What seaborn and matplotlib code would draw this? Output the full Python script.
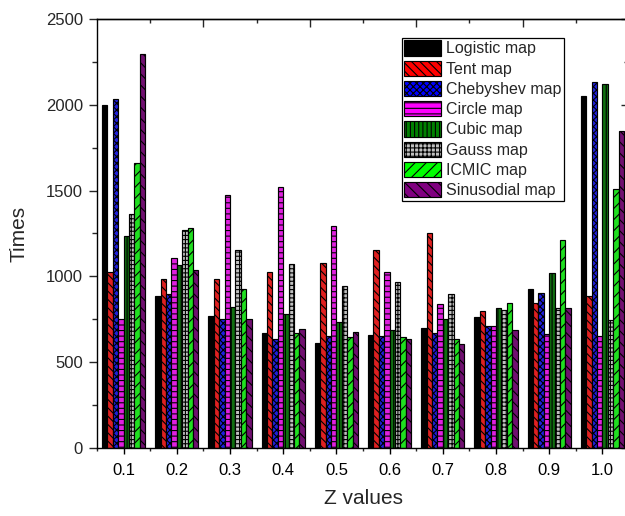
import matplotlib
matplotlib.use("Agg")
import matplotlib.pyplot as plt
from matplotlib.patches import Patch
from matplotlib.ticker import MultipleLocator
import numpy as np
import pandas as pd
import seaborn as sns

z_values = ["0.1", "0.2", "0.3", "0.4", "0.5", "0.6", "0.7", "0.8", "0.9", "1.0"]
map_names = ["Logistic map", "Tent map", "Chebyshev map", "Circle map",
             "Cubic map", "Gauss map", "ICMIC map", "Sinusodial map"]

logistic = [2000, 887, 772, 671, 611, 657, 698, 766, 928, 2050]
tent = [1025, 984, 984, 1025, 1079, 1153, 1254, 799, 844, 883]
chebyshev = [2032, 897, 751, 638, 652, 652, 669, 710, 904, 2130]
circle = [752, 1108, 1472, 1521, 1293, 1023, 840, 708, 663, 652]
cubic = [1233, 1068, 823, 780, 737, 686, 749, 818, 1017, 2120]
gauss = [1363, 1270, 1151, 1075, 943, 967, 900, 805, 815, 747]
icmic = [1661, 1282, 926, 669, 648, 644, 634, 846, 1212, 1511]
sinusodial = [2295, 1037, 751, 692, 675, 634, 605, 688, 815, 1849]

colors = ["#000000", "#ff0000", "#0000ff", "#ff00ff",
          "#008000", "#c0c0c0", "#00ff00", "#800080"]
hatches = ["", "\\\\\\\\", "xxxxx", "---", "||||", "++++", "///", "\\\\\\"]

series = [logistic, tent, chebyshev, circle, cubic, gauss, icmic, sinusodial]
df = pd.DataFrame({
    "z": np.tile(z_values, len(map_names)),
    "map": np.repeat(map_names, len(z_values)),
    "times": np.concatenate(series),
})

sns.set_theme(style="ticks")
plt.rcParams["font.family"] = ["Liberation Sans", "DejaVu Sans"]
plt.rcParams["hatch.linewidth"] = 0.8
plt.rcParams["hatch.color"] = "black"

fig = plt.figure(figsize=(6.25, 5.16), dpi=100)
ax = fig.add_axes([0.1552, 0.1318, 0.8512, 0.8314])

sns.barplot(data=df, x="z", y="times", hue="map", order=z_values,
            hue_order=map_names, palette=colors, width=0.81,
            edgecolor="black", linewidth=0.85, legend=False, ax=ax)

for cont, h in zip(ax.containers, hatches):
    for bar in cont:
        bar.set_hatch(h)

ax.set_xlim(-0.5, 9.5)
ax.set_ylim(0, 2500)
ax.yaxis.set_major_locator(MultipleLocator(500))
ax.yaxis.set_minor_locator(MultipleLocator(250))
ax.set_xticks(np.arange(-0.5, 10, 1), minor=True)

ax.tick_params(axis="x", which="major", direction="out", length=4.5, width=1,
               labelsize=12, pad=6, colors="black")
ax.tick_params(axis="x", which="minor", direction="out", length=2.2, width=1)
ax.tick_params(axis="y", which="major", direction="out", length=6, width=1,
               labelsize=12, pad=4)
ax.tick_params(axis="y", which="minor", direction="out", length=3.6, width=1)

for s in ax.spines.values():
    s.set_visible(True)
    s.set_linewidth(1.0)
    s.set_color("black")

top = ax.secondary_xaxis("top")
top.set_xticks(np.arange(1.5, 10, 2))
top.set_xticks(np.arange(0.5, 10, 2), minor=True)
top.tick_params(which="major", direction="in", length=6, width=1, labeltop=False)
top.tick_params(which="minor", direction="in", length=3, width=1)
top.spines["top"].set_linewidth(1.0)

right = ax.secondary_yaxis("right")
right.yaxis.set_major_locator(MultipleLocator(500))
right.yaxis.set_minor_locator(MultipleLocator(250))
right.tick_params(which="major", direction="in", length=6, width=1, labelright=False)
right.tick_params(which="minor", direction="in", length=3.6, width=1)

ax.set_xlabel("Z values", fontsize=15)
ax.set_ylabel("Times", fontsize=15)
ax.xaxis.set_label_coords(0.5, -0.095)
ax.yaxis.set_label_coords(-0.128, 0.5)

handles = [Patch(facecolor=c, edgecolor="black", hatch=h, linewidth=0.85)
           for c, h in zip(colors, hatches)]
leg = ax.legend(handles=handles, labels=map_names, loc="upper left",
                bbox_to_anchor=(0.573, 0.956), borderaxespad=0, fontsize=11.5,
                handlelength=2.3, handleheight=1.1, labelspacing=0.26,
                handletextpad=0.3, borderpad=0.15, fancybox=False,
                framealpha=1, edgecolor="black")
leg.get_frame().set_linewidth(0.9)

fig.savefig("out.png", dpi=100)
